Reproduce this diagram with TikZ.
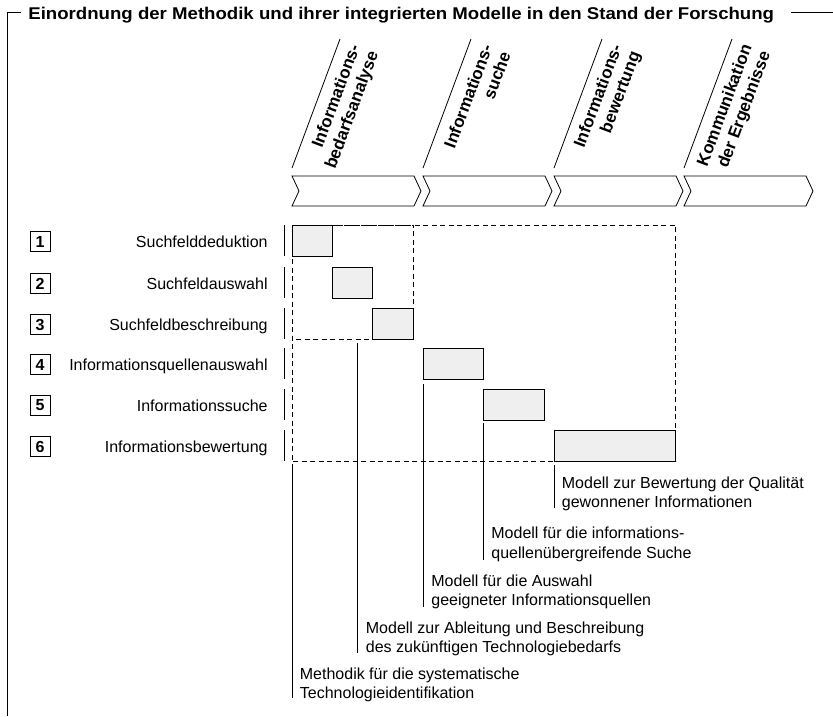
\documentclass[tikz,border=0pt]{standalone}
\usepackage{fontspec}
\usepackage{graphicx}
\setmainfont{Liberation Sans}
\usetikzlibrary{calc}
\definecolor{boxgrey}{RGB}{239,239,239}
\begin{document}
\begin{tikzpicture}[x=1pt,y=-1pt,line width=0.8pt,
  every node/.style={inner sep=0pt,font=\fontsize{16}{19.5}\selectfont},
  titletext/.style={font=\fontsize{17}{20}\selectfont\bfseries,anchor=base west},
  phasetext/.style={font=\fontsize{17}{19.5}\selectfont\bfseries,align=right,rotate=69.5,anchor=east},
  numbox/.style={draw,minimum width=20pt,minimum height=20pt,font=\fontsize{16}{19.5}\selectfont\bfseries},
  rowlabel/.style={anchor=base east},
  stepbox/.style={draw,fill=boxgrey,anchor=north west,minimum height=31pt},
  frame/.style={dash pattern=on 5pt off 3.5pt},
  modeltext/.style={align=left,anchor=base west},
  chevron/.style={draw,line join=miter}]
\useasboundingbox (0,0) rectangle (833,716);

% outer frame with title
\node[titletext] (title) at (28,19.5) {\scalebox{1.095}[1]{Einordnung der Methodik und ihrer integrierten Modelle in den Stand der Forschung}};
\draw (7,716) -- (7,12.5) -- (20.5,12.5);
\draw (791,12.5) -- (833,12.5);

% process phases: chevrons, slanted guide lines and rotated captions
\foreach \i/\xl/\txt in {1/292/{Informations-\\bedarfsanalyse},
                         2/423/{Informations-\\suche},
                         3/554/{Informations-\\bewertung},
                         4/684/{Kommunikation\\der Ergebnisse}}{
  \draw[chevron] (\xl,176) -- ++(122,0) -- ++(7,15) -- ++(-7,15) -- ++(-122,0) -- ++(7,-15) -- cycle;
  \coordinate (g\i a) at (\xl,168);
  \coordinate (g\i b) at ($(\xl,168)+(48,-129)$);
  \draw (g\i a) -- (g\i b);
  \node[phasetext] (p\i) at ($(g\i b)+(25.3,9.5)$) {\txt};
}

% rows: number, label, separator bar
\foreach \i/\lab/\top in {1/Suchfelddeduktion/225,
                          2/Suchfeldauswahl/267,
                          3/Suchfeldbeschreibung/308,
                          4/Informationsquellenauswahl/348,
                          5/Informationssuche/389,
                          6/Informationsbewertung/430}{
  \node[numbox] (n\i) at (40,\top+16.5) {\i};
  \node[rowlabel] (l\i) at (268,\top+22.3) {\lab};
  \draw (284,\top) -- (284,\top+31);
}

% activity bars
\node[stepbox,minimum width=40pt]  (b1) at (292,225) {};
\node[stepbox,minimum width=40pt]  (b2) at (332,267) {};
\node[stepbox,minimum width=41pt]  (b3) at (372,308) {};
\node[stepbox,minimum width=60pt]  (b4) at (423,348) {};
\node[stepbox,minimum width=61pt]  (b5) at (483,389) {};
\node[stepbox,minimum width=121pt] (b6) at (554,430) {};

% scope frames
\draw[frame] (b1.north west) rectangle (b6.south east);
\draw[frame] (b1.north west) rectangle (b3.south east);

% models and their leader lines
\node[modeltext] (m1) at (299.5,698.5) {Methodik für die systematische\\Technologieidentifikation};
\node[modeltext] (m2) at (365.5,652.5) {Modell zur Ableitung und Beschreibung\\des zukünftigen Technologiebedarfs};
\node[modeltext] (m3) at (431,605.5) {Modell für die Auswahl\\geeigneter Informationsquellen};
\node[modeltext] (m4) at (491,558) {Modell für die informations-\\quellenübergreifende Suche};
\node[modeltext] (m5) at (561.5,507.5) {Modell zur Bewertung der Qualität\\gewonnener Informationen};

\coordinate (t1) at (292,464);  \coordinate (e1) at (292,698);
\coordinate (t2) at (357,343);  \coordinate (e2) at (357,653);
\coordinate (t3) at (423,384);  \coordinate (e3) at (423,607);
\coordinate (t4) at (483,423);  \coordinate (e4) at (483,560);
\coordinate (t5) at (554,465);  \coordinate (e5) at (554,508);
\foreach \i in {1,...,5}{ \draw (t\i) -- (e\i); }
\end{tikzpicture}
\end{document}
